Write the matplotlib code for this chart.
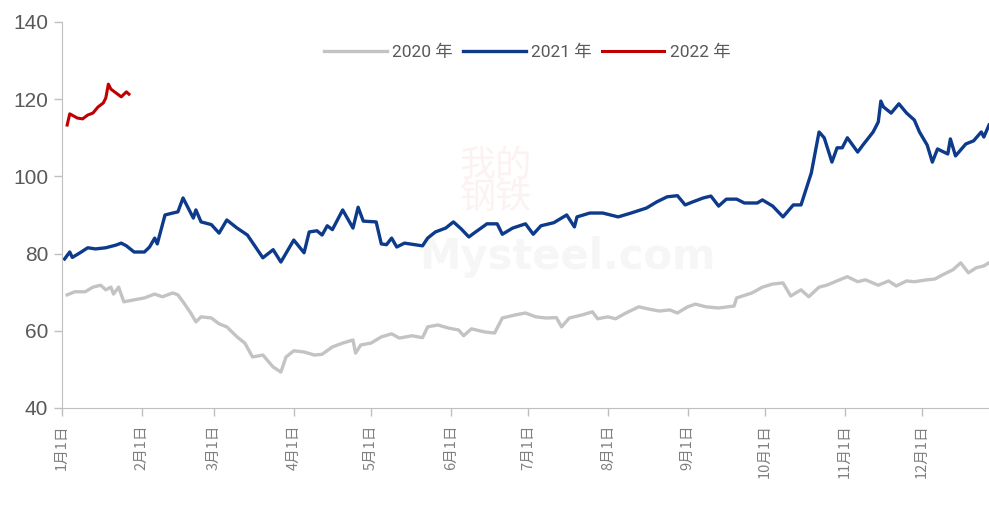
import matplotlib
matplotlib.use("Agg")
import matplotlib.pyplot as plt
from matplotlib import font_manager

# day offsets from Jan 1 and index values for each year
days_2020 = [2, 5, 9, 12, 15, 17, 19, 20, 22, 24, 28, 32, 36, 39, 43, 45, 47, 50, 52, 54,
             58, 61, 64, 68, 71, 74, 78, 82, 85, 87, 90, 94, 98, 101, 105, 109, 113, 114,
             116, 120, 124, 128, 131, 136, 140, 142, 146, 150, 154, 156, 159, 164, 168,
             171, 176, 180, 184, 188, 192, 194, 197, 202, 206, 208, 212, 215, 219, 224,
             228, 232, 236, 239, 243, 246, 250, 255, 261, 262, 268, 272, 276, 280, 283,
             287, 290, 294, 297, 302, 305, 309, 312, 317, 321, 324, 328, 331, 336, 339,
             342, 346, 349, 352, 355, 358, 360]
vals_2020 = [69.3, 70.1, 70.1, 71.3, 71.8, 70.6, 71.3, 69.5, 71.3, 67.5, 68.0, 68.5, 69.5,
             68.8, 69.8, 69.3, 67.5, 64.6, 62.3, 63.6, 63.3, 61.8, 61.0, 58.4, 56.8, 53.2,
             53.7, 50.6, 49.3, 53.2, 54.8, 54.5, 53.7, 53.9, 55.8, 56.8, 57.6, 54.2, 56.3,
             56.8, 58.4, 59.2, 58.1, 58.7, 58.2, 61.0, 61.5, 60.7, 60.2, 58.7, 60.5, 59.7,
             59.4, 63.3, 64.1, 64.6, 63.6, 63.3, 63.4, 61.0, 63.3, 64.1, 64.9, 63.1, 63.6,
             63.1, 64.6, 66.2, 65.6, 65.1, 65.4, 64.6, 66.2, 66.9, 66.2, 65.9, 66.4, 68.5,
             69.8, 71.3, 72.1, 72.4, 69.0, 70.6, 68.8, 71.3, 71.8, 73.2, 74.0, 72.7, 73.2,
             71.8, 72.9, 71.6, 72.9, 72.7, 73.2, 73.4, 74.5, 75.8, 77.6, 75.0, 76.3, 76.8,
             77.6]

days_2021 = [1, 3, 4, 7, 10, 13, 17, 21, 23, 25, 28, 32, 34, 36, 37, 40, 43, 45, 47, 51,
             52, 54, 58, 61, 64, 68, 72, 78, 82, 85, 90, 94, 96, 99, 101, 103, 105, 109,
             113, 115, 117, 122, 124, 126, 128, 130, 133, 140, 142, 145, 149, 152, 155,
             158, 160, 164, 165, 169, 171, 175, 180, 183, 186, 191, 196, 199, 200, 205,
             210, 216, 221, 227, 231, 235, 239, 242, 245, 249, 252, 255, 258, 262, 265,
             270, 272, 276, 280, 284, 287, 291, 294, 296, 299, 301, 303, 305, 309, 311,
             315, 317, 318, 319, 322, 325, 328, 331, 333, 336, 338, 340, 344, 345, 347,
             351, 354, 357, 358, 360]
vals_2021 = [78.6, 80.4, 79.0, 80.2, 81.5, 81.2, 81.5, 82.2, 82.7, 82.0, 80.4, 80.4, 81.7,
             84.0, 82.5, 90.0, 90.5, 90.8, 94.4, 89.2, 91.3, 88.2, 87.5, 85.3, 88.7, 86.6,
             84.8, 78.9, 81.0, 77.8, 83.5, 80.2, 85.6, 85.9, 84.8, 87.2, 86.2, 91.3, 86.6,
             92.0, 88.4, 88.2, 82.5, 82.3, 84.0, 81.7, 82.7, 82.0, 84.0, 85.6, 86.6, 88.2,
             86.4, 84.3, 85.3, 87.2, 87.7, 87.7, 85.0, 86.6, 87.7, 85.0, 87.2, 88.0, 90.0,
             86.9, 89.5, 90.5, 90.5, 89.5, 90.5, 91.8, 93.4, 94.7, 95.0, 92.6, 93.4, 94.4,
             94.9, 92.3, 94.1, 94.1, 93.1, 93.1, 93.9, 92.3, 89.5, 92.6, 92.6, 100.9, 111.5,
             110.0, 103.7, 107.4, 107.4, 110.0, 106.3, 108.1, 111.5, 114.1, 119.5, 118.0,
             116.4, 118.8, 116.4, 114.6, 111.5, 108.1, 103.7, 107.1, 105.8, 109.7, 105.3,
             108.4, 109.2, 111.5, 110.2, 113.3]

days_2022 = [2, 3, 6, 8, 10, 12, 14, 16, 17, 18, 19, 21, 23, 25, 26]
vals_2022 = [113.3, 116.2, 115.1, 114.9, 115.9, 116.4, 118.0, 119.0, 120.3, 123.9, 122.6,
             121.6, 120.6, 121.9, 121.3]

month_starts = [0, 31, 59, 90, 120, 151, 181, 212, 243, 273, 304, 334]
month_labels = [f"{m}月1日" for m in range(1, 13)]

installed = {f.name for f in font_manager.fontManager.ttflist}
num_font = "Liberation Sans Narrow" if "Liberation Sans Narrow" in installed else "Liberation Sans"
plt.rcParams["font.family"] = [num_font, "Noto Sans CJK SC", "DejaVu Sans"]

fig = plt.figure(figsize=(9.89, 5.08), dpi=100)
ax = fig.add_axes([0.0627, 0.197, 0.9373, 0.7597])

# faint site watermark
ax.text(0.468, 0.585, "我的\n钢铁", transform=ax.transAxes, ha="center", va="center",
        fontsize=26, color="#fdf2f2", family=["Noto Sans CJK SC"], zorder=0, linespacing=0.85)
ax.text(0.545, 0.39, "Mysteel.com", transform=ax.transAxes, ha="center", va="center",
        fontsize=30, color="#f6f6f6", fontweight="bold", family=["DejaVu Sans"], zorder=0)

ax.plot(days_2020, vals_2020, color="#c3c3c3", lw=2.4, label="2020 年")
ax.plot(days_2021, vals_2021, color="#0d3a8a", lw=2.4, label="2021 年")
ax.plot(days_2022, vals_2022, color="#c00000", lw=2.2, label="2022 年")

ax.set_xlim(0, 360)
ax.set_ylim(40, 140)
ax.set_yticks(range(40, 141, 20))
ax.set_xticks(month_starts)
ax.set_xticklabels(month_labels, rotation=90, fontsize=10.5, color="#7f7f7f",
                   family=["Noto Sans CJK SC"])
for lbl in ax.get_yticklabels():
    lbl.set_fontsize(15)
    lbl.set_color("#595959")

for side in ["top", "right"]:
    ax.spines[side].set_visible(False)
for side in ["left", "bottom"]:
    ax.spines[side].set_color("#bfbfbf")
ax.tick_params(axis="both", colors="#bfbfbf", length=6, width=1)
ax.tick_params(axis="y", labelcolor="#595959", pad=4)
ax.tick_params(axis="x", labelcolor="#7f7f7f", pad=6)

leg = ax.legend(loc="center", bbox_to_anchor=(0.502, 0.922), ncol=3, frameon=False,
                handlelength=3.6, handletextpad=0.3, columnspacing=0.6,
                prop={"family": ["Roboto", "Noto Sans CJK SC"], "size": 12.5})
for t in leg.get_texts():
    t.set_color("#595959")

fig.savefig("out.png", dpi=100)
